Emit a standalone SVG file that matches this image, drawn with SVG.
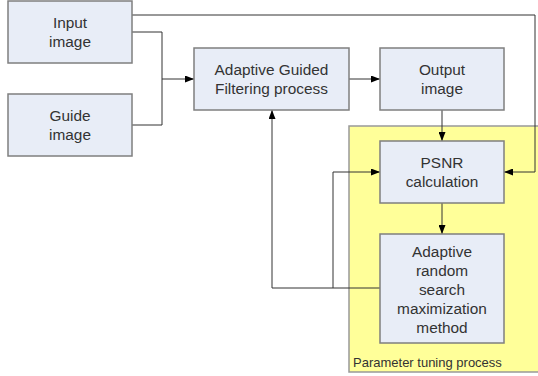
<svg xmlns="http://www.w3.org/2000/svg" width="538" height="376" viewBox="0 0 538 376">
<style>
.box{fill:#E8EDF7;stroke:#7F7F7F;stroke-width:1.5}
.t{font-family:"Liberation Sans",Arial,sans-serif;font-size:15.4px;fill:#333;text-anchor:middle}
.c{fill:none;stroke:#333;stroke-width:1}
</style>
<defs>
<marker id="a" markerWidth="9" markerHeight="7" refX="9" refY="3.5" orient="auto" markerUnits="userSpaceOnUse">
<path d="M0,0 L9,3.5 L0,7 Z" fill="#000"/>
</marker>
</defs>
<rect width="538" height="376" fill="#fff"/>
<g id="group-parameter">
<rect x="349" y="126" width="192" height="246" fill="#FFFF99" stroke="#999" stroke-width="1.5"/>
<text x="353" y="367" style="font-family:'Liberation Sans',Arial,sans-serif;font-size:13px;fill:#333">Parameter tuning process</text>
</g>
<g id="connectors">
<path class="c" d="M132,32 H162 V125 H132"/>
<path class="c" d="M162,79 H194" marker-end="url(#a)"/>
<path class="c" d="M132,15 H535 V172 H504" marker-end="url(#a)"/>
<path class="c" d="M349,79 H380" marker-end="url(#a)"/>
<path class="c" d="M442,110 V141" marker-end="url(#a)"/>
<path class="c" d="M442,203 V234" marker-end="url(#a)"/>
<path class="c" d="M380,288 H272 V110" marker-end="url(#a)"/>
<path class="c" d="M333,288 V172 H380" marker-end="url(#a)"/>
</g>
<g id="input">
<rect class="box" x="8" y="1" width="124" height="62"/>
<text class="t" x="70" y="28">Input</text>
<text class="t" x="70" y="47">image</text>
</g>
<g id="guide">
<rect class="box" x="8" y="94" width="124" height="62"/>
<text class="t" x="70" y="121">Guide</text>
<text class="t" x="70" y="140">image</text>
</g>
<g id="agf">
<rect class="box" x="194" y="48" width="155" height="62"/>
<text class="t" x="271.5" y="75">Adaptive Guided</text>
<text class="t" x="271.5" y="94">Filtering process</text>
</g>
<g id="output">
<rect class="box" x="380" y="48" width="124" height="62"/>
<text class="t" x="442" y="75">Output</text>
<text class="t" x="442" y="94">image</text>
</g>
<g id="psnr">
<rect class="box" x="380" y="141" width="124" height="62"/>
<text class="t" x="442" y="168">PSNR</text>
<text class="t" x="442" y="187">calculation</text>
</g>
<g id="ars">
<rect class="box" x="380" y="234" width="124" height="109"/>
<text class="t" x="442" y="257">Adaptive</text>
<text class="t" x="442" y="276">random</text>
<text class="t" x="442" y="295">search</text>
<text class="t" x="442" y="314">maximization</text>
<text class="t" x="442" y="333">method</text>
</g>
</svg>
